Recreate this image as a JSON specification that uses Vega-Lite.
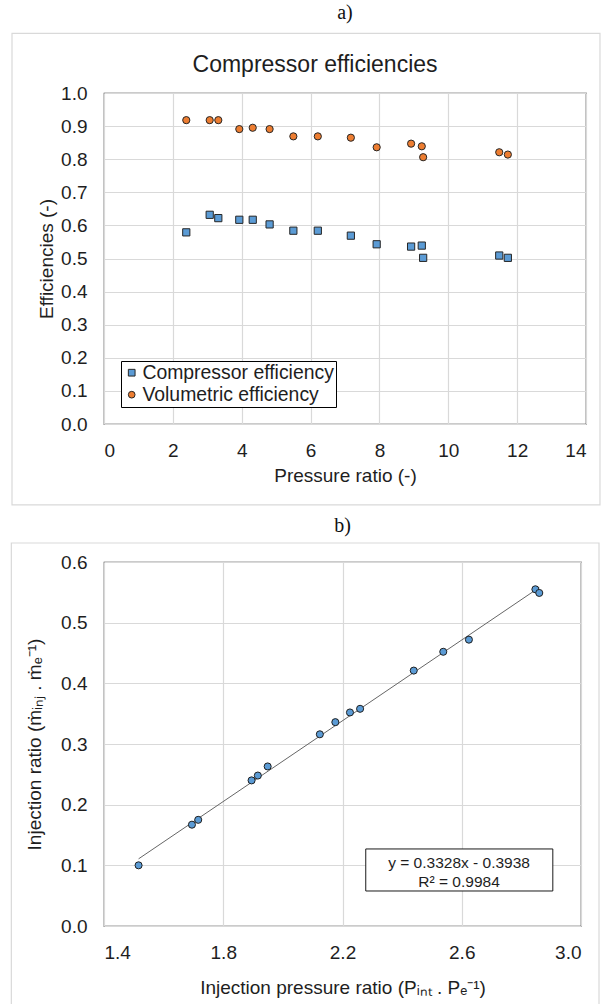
{
  "$schema": "https://vega.github.io/schema/vega-lite/v6.json",
  "background": "white",
  "padding": {"left": 10, "top": 2, "right": 0, "bottom": 0},
  "spacing": 8,
  "config": {
    "font": "Liberation Sans",
    "view": {"stroke": "#333333", "strokeWidth": 1.2},
    "axis": {
      "labelFont": "Liberation Sans",
      "labelFontSize": 19,
      "labelColor": "#1e1e1e",
      "titleFont": "Liberation Sans",
      "titleFontSize": 19,
      "titleFontWeight": "normal",
      "titleColor": "#1e1e1e",
      "ticks": false,
      "tickSize": 0,
      "domain": false,
      "grid": true,
      "gridColor": "#d9d9d9",
      "gridWidth": 1.2,
      "labelPadding": 17
    },
    "title": {"font": "Liberation Serif", "fontSize": 20, "fontWeight": "normal", "color": "#111111", "anchor": "middle"}
  },
  "vconcat": [
    {
      "title": {"text": "a)", "offset": 10},
      "width": 482,
      "height": 331,
      "data": {
        "values": [
          {"pr": 2.39, "eff": 0.579, "series": "Compressor efficiency"},
          {"pr": 3.07, "eff": 0.632, "series": "Compressor efficiency"},
          {"pr": 3.32, "eff": 0.622, "series": "Compressor efficiency"},
          {"pr": 3.93, "eff": 0.617, "series": "Compressor efficiency"},
          {"pr": 4.32, "eff": 0.617, "series": "Compressor efficiency"},
          {"pr": 4.81, "eff": 0.603, "series": "Compressor efficiency"},
          {"pr": 5.50, "eff": 0.584, "series": "Compressor efficiency"},
          {"pr": 6.21, "eff": 0.584, "series": "Compressor efficiency"},
          {"pr": 7.17, "eff": 0.569, "series": "Compressor efficiency"},
          {"pr": 7.92, "eff": 0.543, "series": "Compressor efficiency"},
          {"pr": 8.92, "eff": 0.536, "series": "Compressor efficiency"},
          {"pr": 9.23, "eff": 0.539, "series": "Compressor efficiency"},
          {"pr": 9.27, "eff": 0.502, "series": "Compressor efficiency"},
          {"pr": 11.48, "eff": 0.509, "series": "Compressor efficiency"},
          {"pr": 11.73, "eff": 0.502, "series": "Compressor efficiency"},
          {"pr": 2.39, "eff": 0.918, "series": "Volumetric efficiency"},
          {"pr": 3.07, "eff": 0.918, "series": "Volumetric efficiency"},
          {"pr": 3.32, "eff": 0.918, "series": "Volumetric efficiency"},
          {"pr": 3.93, "eff": 0.891, "series": "Volumetric efficiency"},
          {"pr": 4.32, "eff": 0.895, "series": "Volumetric efficiency"},
          {"pr": 4.81, "eff": 0.891, "series": "Volumetric efficiency"},
          {"pr": 5.50, "eff": 0.869, "series": "Volumetric efficiency"},
          {"pr": 6.21, "eff": 0.869, "series": "Volumetric efficiency"},
          {"pr": 7.17, "eff": 0.865, "series": "Volumetric efficiency"},
          {"pr": 7.92, "eff": 0.836, "series": "Volumetric efficiency"},
          {"pr": 8.92, "eff": 0.847, "series": "Volumetric efficiency"},
          {"pr": 9.23, "eff": 0.839, "series": "Volumetric efficiency"},
          {"pr": 9.27, "eff": 0.806, "series": "Volumetric efficiency"},
          {"pr": 11.48, "eff": 0.821, "series": "Volumetric efficiency"},
          {"pr": 11.73, "eff": 0.814, "series": "Volumetric efficiency"}
        ]
      },
      "layer": [
        {
          "data": {"values": [{}]},
          "mark": {"type": "rect", "filled": false, "color": "#d9d9d9", "strokeWidth": 1.2},
          "encoding": {
            "x": {"datum": -2.672, "type": "quantitative", "scale": {"domain": [0, 14], "nice": false, "zero": false},
              "axis": {"values": [0, 2, 4, 6, 8, 10, 12, 14], "format": "d", "grid": true, "title": "Pressure ratio (-)", "titlePadding": 6}},
            "x2": {"datum": 14.406},
            "y": {"datum": 1.1804, "type": "quantitative", "scale": {"domain": [0, 1], "nice": false, "zero": false},
              "axis": {"values": [0, 0.1, 0.2, 0.3, 0.4, 0.5, 0.6, 0.7, 0.8, 0.9, 1.0], "format": ".1f", "grid": true, "title": "Efficiencies (-)", "titlePadding": 4}},
            "y2": {"datum": -0.2445}
          }
        },
        {
          "data": {"values": [{}]},
          "mark": {"type": "text", "text": "Compressor efficiencies", "font": "Liberation Sans", "fontSize": 23, "color": "#1e1e1e", "align": "center", "baseline": "middle"},
          "encoding": {
            "x": {"datum": 6.13, "type": "quantitative", "scale": {"domain": [0, 14], "nice": false, "zero": false},
              "axis": {"values": [0, 2, 4, 6, 8, 10, 12, 14], "format": "d", "grid": true, "title": "Pressure ratio (-)", "titlePadding": 6}},
            "y": {"datum": 1.085, "type": "quantitative", "scale": {"domain": [0, 1], "nice": false, "zero": false},
              "axis": {"values": [0, 0.1, 0.2, 0.3, 0.4, 0.5, 0.6, 0.7, 0.8, 0.9, 1.0], "format": ".1f", "grid": true, "title": "Efficiencies (-)", "titlePadding": 4}}
          }
        },
        {
          "mark": {"type": "point", "filled": true, "stroke": "#262626", "strokeWidth": 1, "size": 52, "opacity": 1},
          "encoding": {
            "x": {
              "field": "pr", "type": "quantitative",
              "scale": {"domain": [0, 14], "nice": false, "zero": false},
              "axis": {"values": [0, 2, 4, 6, 8, 10, 12, 14], "format": "d", "grid": true, "title": "Pressure ratio (-)", "titlePadding": 6}
            },
            "y": {
              "field": "eff", "type": "quantitative",
              "scale": {"domain": [0, 1], "nice": false, "zero": false},
              "axis": {"values": [0, 0.1, 0.2, 0.3, 0.4, 0.5, 0.6, 0.7, 0.8, 0.9, 1.0], "format": ".1f", "grid": true, "title": "Efficiencies (-)", "titlePadding": 4}
            },
            "color": {
              "field": "series", "type": "nominal",
              "scale": {"domain": ["Compressor efficiency", "Volumetric efficiency"], "range": ["#5B9BD5", "#ED7D31"]},
              "legend": {"orient": "none", "legendX": 17, "legendY": 268, "title": null, "labelFont": "Liberation Sans", "labelFontSize": 19.4, "labelColor": "#1e1e1e", "labelLimit": 400, "symbolSize": 45, "symbolStrokeColor": "#262626", "symbolStrokeWidth": 1, "strokeColor": "#000000", "fillColor": "#ffffff", "padding": 2, "rowPadding": 1, "symbolOffset": -1, "labelOffset": 1}
            },
            "shape": {
              "field": "series", "type": "nominal",
              "scale": {"domain": ["Compressor efficiency", "Volumetric efficiency"], "range": ["square", "circle"]},
              "legend": {"orient": "none", "legendX": 17, "legendY": 268, "title": null, "labelFont": "Liberation Sans", "labelFontSize": 19.4, "labelColor": "#1e1e1e", "labelLimit": 400, "symbolSize": 45, "symbolStrokeColor": "#262626", "symbolStrokeWidth": 1, "strokeColor": "#000000", "fillColor": "#ffffff", "padding": 2, "rowPadding": 1, "symbolOffset": -1, "labelOffset": 1}
            }
          }
        }
      ]
    },
    {
      "title": {"text": "b)", "offset": 6},
      "width": 477,
      "height": 364,
      "data": {
        "values": [
          {"ipr": 1.516, "ir": 0.100},
          {"ipr": 1.695, "ir": 0.167},
          {"ipr": 1.716, "ir": 0.175},
          {"ipr": 1.895, "ir": 0.240},
          {"ipr": 1.916, "ir": 0.248},
          {"ipr": 1.949, "ir": 0.263},
          {"ipr": 2.124, "ir": 0.316},
          {"ipr": 2.176, "ir": 0.336},
          {"ipr": 2.225, "ir": 0.352},
          {"ipr": 2.259, "ir": 0.358},
          {"ipr": 2.439, "ir": 0.421},
          {"ipr": 2.538, "ir": 0.452},
          {"ipr": 2.624, "ir": 0.472},
          {"ipr": 2.847, "ir": 0.555},
          {"ipr": 2.860, "ir": 0.549}
        ]
      },
      "layer": [
        {
          "data": {"values": [{}]},
          "mark": {"type": "rect", "filled": false, "color": "#d9d9d9", "strokeWidth": 1.2},
          "encoding": {
            "x": {"datum": 1.0892, "type": "quantitative", "scale": {"domain": [1.4, 3.0], "nice": false, "zero": false},
              "axis": {"values": [1.4, 1.8, 2.2, 2.6, 3.0], "format": ".1f", "grid": true, "title": "Injection pressure ratio (Pᵢₙₜ . Pₑ⁻¹)", "titlePadding": 16}},
            "x2": {"datum": 3.0604},
            "y": {"datum": 0.6313, "type": "quantitative", "scale": {"domain": [0, 0.6], "nice": false, "zero": false},
              "axis": {"values": [0, 0.1, 0.2, 0.3, 0.4, 0.5, 0.6], "format": ".1f", "grid": true, "title": "Injection ratio (ṁᵢₙⱼ . ṁₑ⁻¹)", "titlePadding": 16}},
            "y2": {"datum": -0.1386}
          }
        },
        {
          "data": {"values": [{"ipr": 1.516, "ir": 0.1107}, {"ipr": 2.860, "ir": 0.5580}]},
          "mark": {"type": "line", "color": "#666666", "strokeWidth": 1},
          "encoding": {
            "x": {"field": "ipr", "type": "quantitative", "scale": {"domain": [1.4, 3.0], "nice": false, "zero": false},
              "axis": {"values": [1.4, 1.8, 2.2, 2.6, 3.0], "format": ".1f", "grid": true, "title": "Injection pressure ratio (Pᵢₙₜ . Pₑ⁻¹)", "titlePadding": 16}},
            "y": {"field": "ir", "type": "quantitative", "scale": {"domain": [0, 0.6], "nice": false, "zero": false},
              "axis": {"values": [0, 0.1, 0.2, 0.3, 0.4, 0.5, 0.6], "format": ".1f", "grid": true, "title": "Injection ratio (ṁᵢₙⱼ . ṁₑ⁻¹)", "titlePadding": 16}}
          }
        },
        {
          "mark": {"type": "point", "shape": "circle", "filled": true, "color": "#5B9BD5", "stroke": "#1f1f1f", "strokeWidth": 1, "size": 50, "opacity": 1},
          "encoding": {
            "x": {"field": "ipr", "type": "quantitative", "scale": {"domain": [1.4, 3.0], "nice": false, "zero": false},
              "axis": {"values": [1.4, 1.8, 2.2, 2.6, 3.0], "format": ".1f", "grid": true, "title": "Injection pressure ratio (Pᵢₙₜ . Pₑ⁻¹)", "titlePadding": 16}},
            "y": {"field": "ir", "type": "quantitative", "scale": {"domain": [0, 0.6], "nice": false, "zero": false},
              "axis": {"values": [0, 0.1, 0.2, 0.3, 0.4, 0.5, 0.6], "format": ".1f", "grid": true, "title": "Injection ratio (ṁᵢₙⱼ . ṁₑ⁻¹)", "titlePadding": 16}}
          }
        },
        {
          "data": {"values": [{}]},
          "mark": {"type": "rect", "fill": "#ffffff", "stroke": "#1a1a1a", "strokeWidth": 1},
          "encoding": {
            "x": {"datum": 2.278, "type": "quantitative", "scale": {"domain": [1.4, 3.0], "nice": false, "zero": false},
              "axis": {"values": [1.4, 1.8, 2.2, 2.6, 3.0], "format": ".1f", "grid": true, "title": "Injection pressure ratio (Pᵢₙₜ . Pₑ⁻¹)", "titlePadding": 16}},
            "x2": {"datum": 2.9055},
            "y": {"datum": 0.127, "type": "quantitative", "scale": {"domain": [0, 0.6], "nice": false, "zero": false},
              "axis": {"values": [0, 0.1, 0.2, 0.3, 0.4, 0.5, 0.6], "format": ".1f", "grid": true, "title": "Injection ratio (ṁᵢₙⱼ . ṁₑ⁻¹)", "titlePadding": 16}},
            "y2": {"datum": 0.0577}
          }
        },
        {
          "data": {"values": [{}]},
          "mark": {"type": "text", "text": ["y = 0.3328x - 0.3938", "R² = 0.9984"], "lineHeight": 18.4, "font": "Liberation Sans", "fontSize": 15.5, "color": "#1e1e1e", "align": "center", "baseline": "middle"},
          "encoding": {
            "x": {"datum": 2.591, "type": "quantitative", "scale": {"domain": [1.4, 3.0], "nice": false, "zero": false},
              "axis": {"values": [1.4, 1.8, 2.2, 2.6, 3.0], "format": ".1f", "grid": true, "title": "Injection pressure ratio (Pᵢₙₜ . Pₑ⁻¹)", "titlePadding": 16}},
            "y": {"datum": 0.1034, "type": "quantitative", "scale": {"domain": [0, 0.6], "nice": false, "zero": false},
              "axis": {"values": [0, 0.1, 0.2, 0.3, 0.4, 0.5, 0.6], "format": ".1f", "grid": true, "title": "Injection ratio (ṁᵢₙⱼ . ṁₑ⁻¹)", "titlePadding": 16}}
          }
        }
      ]
    }
  ]
}
